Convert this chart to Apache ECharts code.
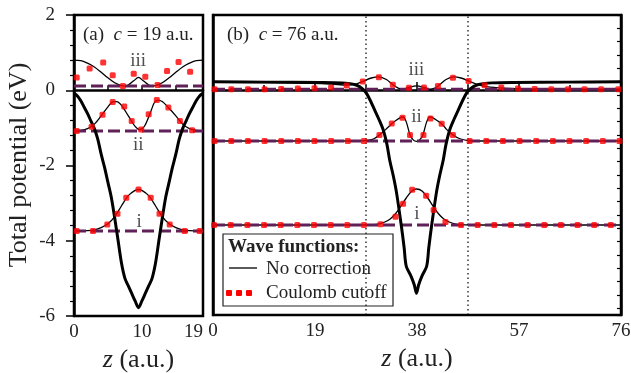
<!DOCTYPE html>
<html>
<head>
<meta charset="utf-8">
<script src="https://cdn.jsdelivr.net/npm/echarts@6/dist/echarts.min.js"></script>
<style>
  html, body { margin: 0; padding: 0; background: #fff; }
  #chart { width: 631px; height: 373px; }
</style>
</head>
<body>
<div id="chart"></div>
<script>
// ---- panel (a): c = 19 a.u. ----
const potentialA = [[0,-0.08],[0.5,-0.15],[1,-0.28],[1.5,-0.45],[2,-0.62],[2.5,-0.82],[3,-1.02],[3.5,-1.3],[4,-1.7],[4.5,-2.05],[5,-2.45],[5.5,-2.85],[6,-3.4],[6.5,-4.0],[7,-4.6],[7.5,-5.0],[8,-5.2],[8.5,-5.4],[9,-5.6],[9.5,-5.78],[10,-5.6],[10.5,-5.4],[11,-5.2],[11.5,-5.0],[12,-4.6],[12.5,-4.0],[13,-3.4],[13.5,-2.85],[14,-2.45],[14.5,-2.05],[15,-1.7],[15.5,-1.3],[16,-1.02],[16.5,-0.82],[17,-0.62],[17.5,-0.45],[18,-0.28],[18.5,-0.15],[19,-0.08]];
const waveA_iii = [[0,0.8],[1,0.79],[2,0.72],[3,0.62],[4,0.48],[5,0.33],[6,0.2],[7,0.12],[7.5,0.11],[8,0.14],[8.8,0.25],[9.5,0.34],[10.2,0.25],[11,0.14],[11.5,0.11],[12,0.12],[13,0.2],[14,0.33],[15,0.48],[16,0.62],[17,0.72],[18,0.79],[19,0.8]];
const waveA_ii = [[0,-1.08],[1,-1.07],[2,-1.02],[3,-0.9],[4,-0.68],[5,-0.44],[5.7,-0.31],[6.3,-0.3],[7,-0.4],[8,-0.68],[9,-0.96],[9.7,-1.05],[10.4,-0.95],[11.2,-0.62],[11.8,-0.34],[12.3,-0.26],[13,-0.3],[14,-0.48],[15,-0.68],[16,-0.9],[17,-1.02],[18,-1.07],[19,-1.08]];
const waveA_i = [[0,-3.74],[2,-3.73],[3,-3.71],[4,-3.65],[5,-3.55],[6,-3.36],[7,-3.07],[8,-2.8],[9,-2.66],[9.5,-2.64],[10,-2.66],[11,-2.8],[12,-3.07],[13,-3.36],[14,-3.55],[15,-3.65],[16,-3.71],[17,-3.73],[19,-3.74]];
const dotsA_iii = [[0.4,0.34],[2.3,0.58],[4.3,0.74],[5.7,0.4],[7.2,0.11],[8.8,0.44],[10.5,0.36],[12.3,0.14],[13.7,0.51],[15.4,0.75],[17.1,0.49]];
const dotsA_ii = [[0.4,-1.08],[2.6,-0.97],[4.2,-0.65],[5.7,-0.31],[7.4,-0.43],[8.5,-0.82],[9.9,-1.04],[11,-0.64],[12.2,-0.26],[13.9,-0.46],[15.6,-0.82],[17.4,-1.06]];
const dotsA_i = [[0.4,-3.74],[2.8,-3.74],[4.9,-3.57],[6.4,-3.28],[7.7,-2.86],[9.5,-2.64],[11.3,-2.86],[12.6,-3.28],[14.1,-3.57],[16.3,-3.74],[18.5,-3.74]];
const levelsA = [0.11, -1.08, -3.74];
const stateLabelsA = [[9.45,0.77,'iii'],[9.45,-1.46,'ii'],[9.6,-3.5,'i']];

// ---- panel (b): c = 76 a.u. ----
const potentialB = [[0,0.22],[10,0.21],[20,0.2],[24,0.19],[25.5,0.17],[26.5,0.14],[27.3,0.09],[28,0.01],[28.6,-0.09],[29.3,-0.28],[30.1,-0.53],[30.9,-0.78],[31.7,-1.06],[32.4,-1.45],[32.9,-1.86],[33.6,-2.3],[34.2,-2.75],[35.1,-3.64],[35.6,-4.2],[36,-4.7],[36.9,-4.97],[37.5,-5.2],[37.9,-5.42],[38.3,-5.2],[38.9,-4.97],[39.8,-4.7],[40.2,-4.2],[40.7,-3.64],[41.6,-2.75],[42.2,-2.3],[42.9,-1.86],[43.4,-1.45],[44.1,-1.06],[44.9,-0.78],[45.7,-0.53],[46.5,-0.28],[47.2,-0.09],[47.8,0.01],[48.5,0.09],[49.3,0.14],[50.3,0.17],[52,0.19],[56,0.2],[66,0.21],[76,0.22]];
const waveB_iii = [[0,0.21],[10,0.2],[18,0.18],[22,0.16],[25,0.13],[26.5,0.15],[27.9,0.23],[29.5,0.32],[30.9,0.35],[32.3,0.28],[33.5,0.14],[34.5,0.05],[35.4,0.02],[36.5,0.07],[37.9,0.11],[39.3,0.07],[40.4,0.02],[41.3,0.05],[42.2,0.14],[43.4,0.28],[44.8,0.35],[46.2,0.32],[47.8,0.23],[49.2,0.15],[51,0.09],[54,0.05],[58,0.03],[76,0.02]];
const waveB_ii = [[0,-1.36],[27,-1.36],[29,-1.34],[30,-1.3],[31,-1.2],[32.2,-1.05],[33.3,-0.9],[34,-0.82],[35,-0.73],[35.4,-0.72],[36,-0.85],[36.7,-1.2],[37.3,-1.33],[37.9,-1.37],[38.5,-1.33],[39.1,-1.2],[39.8,-0.85],[40.4,-0.72],[40.8,-0.73],[41.8,-0.82],[42.6,-0.9],[43.5,-1.05],[44.7,-1.2],[46,-1.3],[47.5,-1.35],[49,-1.36],[76,-1.36]];
const waveB_i = [[0,-3.6],[28,-3.6],[30,-3.59],[31,-3.57],[32,-3.52],[33,-3.44],[34,-3.3],[35,-3.1],[36,-2.88],[37,-2.7],[37.9,-2.64],[39,-2.7],[40,-2.88],[41,-3.1],[42,-3.3],[43,-3.44],[44,-3.52],[45,-3.57],[46,-3.59],[48,-3.6],[76,-3.6]];
const dotsB_iii = [[0.3,0.02],[3.4,0.02],[6.5,0.02],[9.6,0.02],[12.7,0.03],[15.8,0.04],[18.9,0.05],[22,0.07],[24.9,0.12],[27.9,0.23],[30.9,0.34],[33.5,0.14],[36.5,0.06],[39.3,0.07],[41.9,0.11],[44.7,0.33],[47.6,0.24],[50.6,0.13],[53.7,0.07],[56.8,0.04],[59.9,0.03],[63,0.02],[66.1,0.02],[69.2,0.02],[72.3,0.02],[75.5,0.02]];
const dotsB_ii = [[0.3,-1.36],[3.4,-1.36],[6.5,-1.36],[9.6,-1.36],[12.7,-1.36],[15.8,-1.36],[18.9,-1.36],[22,-1.36],[25.1,-1.36],[28.1,-1.36],[31,-1.2],[33.3,-0.89],[35.3,-0.74],[36.7,-1.2],[39.2,-1.2],[40.5,-0.76],[42.6,-0.9],[44.7,-1.2],[47.8,-1.36],[50.9,-1.36],[54,-1.36],[57.1,-1.36],[60.2,-1.36],[63.3,-1.36],[66.4,-1.36],[69.5,-1.36],[72.6,-1.36],[75.7,-1.36]];
const dotsB_i = [[0.2,-3.6],[3.3,-3.6],[6.4,-3.6],[9.5,-3.6],[12.6,-3.6],[15.7,-3.6],[18.8,-3.6],[21.9,-3.6],[25,-3.6],[28.1,-3.6],[31.2,-3.58],[34,-3.38],[35.4,-3.03],[37.1,-2.66],[39.7,-2.82],[41.1,-3.2],[43.3,-3.52],[46.2,-3.6],[49.3,-3.6],[52.4,-3.6],[55.5,-3.6],[58.6,-3.6],[61.7,-3.6],[64.8,-3.6],[67.9,-3.6],[71,-3.6],[74.1,-3.6]];
const levelsB = [0.02, -1.36, -3.6];
const stateLabelsB = [[37.9,0.53,'iii'],[37.9,-0.71,'ii'],[38,-3.32,'i']];
const cutoffZ = [28.5, 47.5];

// axis ticks
const xTicksA = [0, 10, 19];
const xMaxA = 19;
const xMaxB = 76;
const yMin = -6;
const yMax = 2;

const SERIF = "'Liberation Serif', 'DejaVu Serif', serif";
const TEXT = '#222';
const LEVEL = '#5f2157';
const DOT = '#ff0000';
const FS = 19;

const chart = echarts.init(document.getElementById('chart'));

// 小工具：生成各类 series
const solid = (data, xi, yi, width) => ({
  type: 'line', xAxisIndex: xi, yAxisIndex: yi, data,
  smooth: 0.3, showSymbol: false, silent: true, z: width > 2 ? 5 : 3,
  lineStyle: { color: '#000', width },
});
const level = (v, xi, yi, xmax) => ({
  type: 'line', xAxisIndex: xi, yAxisIndex: yi, data: [[0, v], [xmax, v]],
  showSymbol: false, silent: true, z: 4,
  lineStyle: { color: LEVEL, width: 3, type: [12, 5] },
});
const dots = (data, xi, yi) => ({
  type: 'scatter', xAxisIndex: xi, yAxisIndex: yi, data,
  symbol: 'roundRect', symbolSize: 6, silent: true, z: 6,
  itemStyle: { color: DOT },
});
const labels = (data, xi, yi) => ({
  type: 'scatter', xAxisIndex: xi, yAxisIndex: yi, data,
  symbolSize: 0, silent: true, z: 7,
  label: {
    show: true, position: 'inside', formatter: (p) => p.data[2],
    color: TEXT, fontSize: FS, fontFamily: SERIF,
  },
});

const series = [
  ...levelsA.map((v) => level(v, 0, 0, xMaxA)),
  solid(waveA_iii, 0, 0, 1.3),
  solid(waveA_ii, 0, 0, 1.3),
  solid(waveA_i, 0, 0, 1.3),
  solid(potentialA, 0, 0, 3),
  dots(dotsA_iii, 0, 0),
  dots(dotsA_ii, 0, 0),
  dots(dotsA_i, 0, 0),
  labels(stateLabelsA, 0, 0),

  ...cutoffZ.map((z) => ({
    type: 'line', xAxisIndex: 1, yAxisIndex: 1, data: [[z, yMin], [z, yMax]],
    showSymbol: false, silent: true, z: 2,
    lineStyle: { color: '#000', width: 1.2, type: [1.5, 3] },
  })),
  ...levelsB.map((v) => level(v, 1, 1, xMaxB)),
  solid(waveB_iii, 1, 1, 1.3),
  solid(waveB_ii, 1, 1, 1.3),
  solid(waveB_i, 1, 1, 1.3),
  solid(potentialB, 1, 1, 3),
  dots(dotsB_iii, 1, 1),
  dots(dotsB_ii, 1, 1),
  dots(dotsB_i, 1, 1),
  labels(stateLabelsB, 1, 1),
];

const axisLine = { show: true, lineStyle: { color: '#000', width: 2.5 } };
const tickLabel = { color: TEXT, fontSize: FS, fontFamily: SERIF };
const nameStyle = {
  color: TEXT, fontSize: 26, fontFamily: SERIF,
  rich: { i: { fontStyle: 'italic', fontSize: 26, fontFamily: SERIF, color: TEXT } },
};
const richItalic = { i: { fontStyle: 'italic', fontSize: FS, fontFamily: SERIF, fill: TEXT } };

const option = {
  animation: false,
  backgroundColor: '#fff',
  grid: [
    { left: 74, top: 15, width: 129, height: 301, show: true, borderColor: '#000', borderWidth: 2.5, outerBoundsMode: 'none' },
    { left: 213, top: 15, width: 408, height: 300, show: true, borderColor: '#000', borderWidth: 2.5, outerBoundsMode: 'none' },
  ],
  xAxis: [
    {
      gridIndex: 0, type: 'value', min: 0, max: xMaxA, interval: 5,
      axisLine, splitLine: { show: false },
      axisTick: { inside: true, length: 5, lineStyle: { width: 1.5, color: '#000' } },
      axisLabel: {
        ...tickLabel, margin: 7, alignMaxLabel: 'right',
        formatter: (v) => (xTicksA.includes(v) ? String(v) : ''),
      },
      name: '{i|z} (a.u.)', nameLocation: 'middle', nameGap: 29, nameTextStyle: nameStyle,
    },
    {
      gridIndex: 1, type: 'value', min: 0, max: xMaxB, interval: 19,
      axisLine, splitLine: { show: false },
      axisTick: { inside: true, length: 8, lineStyle: { width: 1.5, color: '#000' } },
      minorTick: { show: true, splitNumber: 2, length: 5, lineStyle: { width: 1.5, color: '#000' } },
      axisLabel: { ...tickLabel, margin: 7 },
      name: '{i|z} (a.u.)', nameLocation: 'middle', nameGap: 29, nameTextStyle: nameStyle,
    },
  ],
  yAxis: [
    {
      gridIndex: 0, type: 'value', min: yMin, max: yMax, interval: 2,
      axisLine, splitLine: { show: false },
      axisTick: { inside: false, length: 8, lineStyle: { width: 1.5, color: '#000' } },
      minorTick: { show: true, splitNumber: 5, length: 4, lineStyle: { width: 1.2, color: '#000' } },
      axisLabel: { ...tickLabel, margin: 19 },
    },
    {
      gridIndex: 1, type: 'value', min: yMin, max: yMax,
      axisLine, splitLine: { show: false }, axisTick: { show: false }, axisLabel: { show: false },
    },
    {
      // 右侧细刻度（第三幅图的坐标，此处只保留刻度）
      gridIndex: 1, type: 'value', position: 'right', min: 0, max: 22.5, interval: 1, inverse: true,
      axisLine, splitLine: { show: false },
      axisTick: { inside: true, length: 4, lineStyle: { width: 1.2, color: '#000' } },
      axisLabel: { show: false },
    },
  ],
  graphic: [
    {
      type: 'text', x: 19, y: 165, rotation: Math.PI / 2, z: 10,
      style: {
        text: 'Total potential (eV)', fill: TEXT, font: `26px ${SERIF}`,
        align: 'center', verticalAlign: 'middle',
      },
    },
    {
      type: 'text', x: 83, y: 35, z: 10,
      style: {
        text: '(a)  {i|c} = 19 a.u.', fill: TEXT, font: `${FS}px ${SERIF}`,
        verticalAlign: 'middle', rich: richItalic,
      },
    },
    {
      type: 'text', x: 227, y: 35, z: 10,
      style: {
        text: '(b)  {i|c} = 76 a.u.', fill: TEXT, font: `${FS}px ${SERIF}`,
        verticalAlign: 'middle', rich: richItalic,
      },
    },
    // 图例
    {
      type: 'rect', shape: { x: 223, y: 234, width: 170, height: 72 }, z: 10,
      style: { fill: 'rgba(255,255,255,0)', stroke: '#222', lineWidth: 1.2 },
    },
    {
      type: 'text', x: 228, y: 247, z: 10,
      style: { text: 'Wave functions:', fill: TEXT, font: `bold ${FS}px ${SERIF}`, verticalAlign: 'middle' },
    },
    {
      type: 'line', shape: { x1: 229, y1: 268, x2: 257, y2: 268 }, z: 10,
      style: { stroke: '#000', lineWidth: 1.3 },
    },
    {
      type: 'text', x: 266, y: 269, z: 10,
      style: { text: 'No correction', fill: TEXT, font: `${FS}px ${SERIF}`, verticalAlign: 'middle' },
    },
    ...[229, 239, 249].map((x) => ({
      type: 'rect', shape: { x: x - 3, y: 290, width: 6, height: 6, r: 1 }, z: 10,
      style: { fill: DOT },
    })),
    {
      type: 'text', x: 266, y: 293, z: 10,
      style: { text: 'Coulomb cutoff', fill: TEXT, font: `${FS}px ${SERIF}`, verticalAlign: 'middle' },
    },
  ],
  series,
};

chart.setOption(option);
</script>
</body>
</html>
